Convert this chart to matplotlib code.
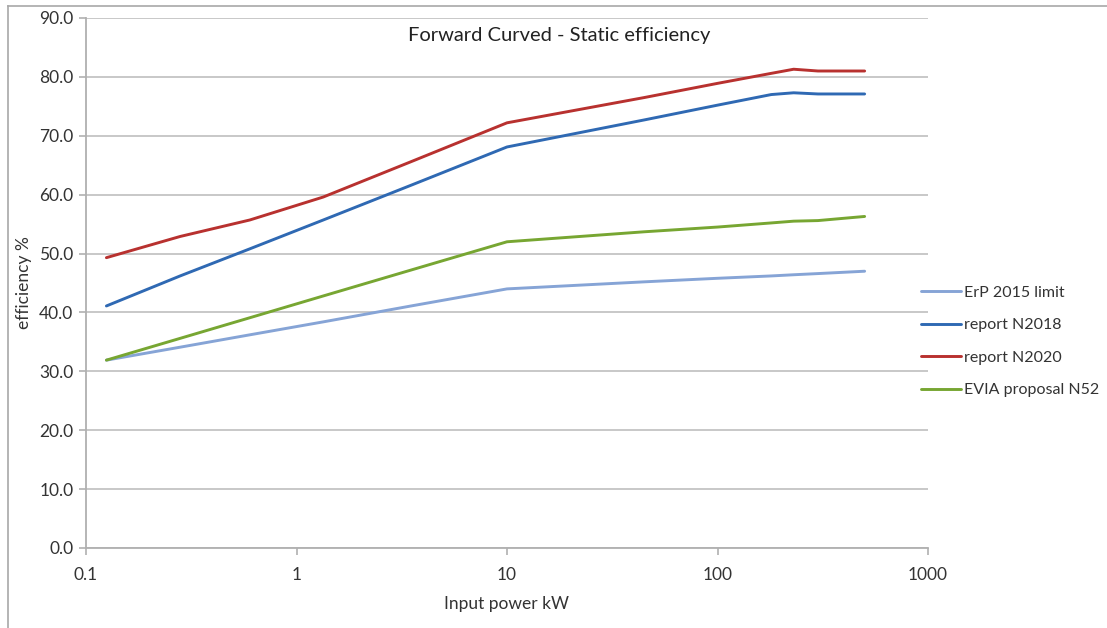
import matplotlib
matplotlib.use("Agg")
import matplotlib.pyplot as plt
from matplotlib.lines import Line2D

plt.rcParams['font.family'] = ['Lato', 'DejaVu Sans']

# input power (kW) and static efficiency (%)
power_kw = [0.125, 0.28, 0.6, 1.34, 3.5, 10, 45, 100, 180, 230, 300, 500]
erp_2015 = [31.9, 34.1, 36.2, 38.4, 41.1, 44.0, 45.2, 45.8, 46.2, 46.4, 46.6, 47.0]
n2018 = [41.1, 46.2, 50.8, 55.7, 61.6, 68.1, 72.7, 75.2, 77.0, 77.3, 77.1, 77.1]
n2020 = [49.3, 52.9, 55.7, 59.6, 65.6, 72.2, 76.5, 78.9, 80.6, 81.3, 81.0, 81.0]
evia_n52 = [31.9, 35.6, 39.1, 42.8, 47.2, 52.0, 53.7, 54.5, 55.2, 55.5, 55.6, 56.3]

series_names = ["ErP 2015 limit", "report N2018", "report N2020", "EVIA proposal N52"]
colours = ["#86A4D6", "#2F69B3", "#B8312F", "#77A632"]

xticks = [0.1, 1, 10, 100, 1000]
xtick_labels = ["0.1", "1", "10", "100", "1000"]
yticks = [0, 10, 20, 30, 40, 50, 60, 70, 80, 90]

txt = "#333333"
gridc = "#C4C4C4"

fig = plt.figure(figsize=(11.07, 6.28), dpi=100)
ax = fig.add_axes([86/1107, 1-548/628, (928-86)/1107, (548-18)/628])

for ys, name, c in zip([erp_2015, n2018, n2020, evia_n52], series_names, colours):
    ax.plot(power_kw, ys, color=c, lw=2.1, label=name, solid_capstyle="round")

ax.set_xscale("log")
ax.set_xlim(0.1, 1000)
ax.set_ylim(0, 90)
ax.set_xticks(xticks)
ax.set_xticklabels(xtick_labels)
ax.xaxis.set_minor_locator(matplotlib.ticker.NullLocator())
ax.set_yticks(yticks)
ax.set_yticklabels([f"{v:.1f}" for v in yticks])
ax.yaxis.grid(True, color=gridc, lw=1.3)
ax.set_axisbelow(True)

for s in ["top", "right"]:
    ax.spines[s].set_visible(False)
for s in ["left", "bottom"]:
    ax.spines[s].set_color("#B0B0B0")
    ax.spines[s].set_linewidth(1.3)
ax.tick_params(axis="both", colors="#B0B0B0", labelcolor=txt, labelsize=12.5, length=5, width=1.2)
ax.tick_params(axis="x", pad=9)
ax.tick_params(axis="y", pad=4)

ax.set_xlabel("Input power kW", fontsize=12.5, color=txt, labelpad=9)
ax.set_ylabel("efficiency %", fontsize=12.5, color=txt, labelpad=5)

fig.text(559/1107, 1-35/628, "Forward Curved - Static efficiency", ha="center", va="center",
         fontsize=14.5, color="#222222")

ax.legend(loc="center left", bbox_to_anchor=(0.992, 0.39), frameon=False, fontsize=11.5,
          handlelength=2.5, handletextpad=0.2, labelspacing=1.15, borderpad=0, borderaxespad=0,
          labelcolor=txt)

# outer chart border (top and left visible)
fig.add_artist(Line2D([8/1107, 1], [1-6/628, 1-6/628], transform=fig.transFigure, color="#A8A8A8", lw=1.2))
fig.add_artist(Line2D([8/1107, 8/1107], [0, 1-6/628], transform=fig.transFigure, color="#A8A8A8", lw=1.2))

fig.savefig("out.png", dpi=100)
